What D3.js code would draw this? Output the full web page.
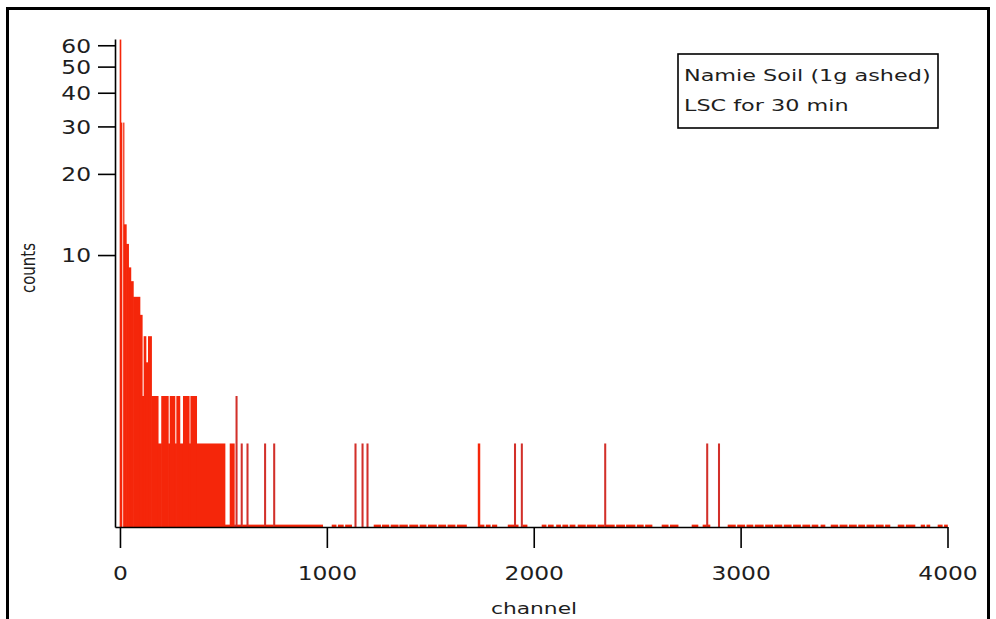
<!DOCTYPE html>
<html><head><meta charset="utf-8">
<script src="https://cdn.jsdelivr.net/npm/d3@7"></script>
<style>html,body{margin:0;padding:0;background:#fff;} svg{display:block;}</style>
</head><body>
<svg id="chart" width="996" height="619"></svg>
<script>
// Histogram runs: [start channel, end channel) with counts
const runStart = [0,5,17,20,31,42,53,65,97,108,116,126,137,153,185,201,234,242,266,274,290,306,335,342,371,508,532,553,560,567,585,592,613,620,698,705,742,749,
  1025,1055,1090,1135,1169,1193,1228,1268,1310,1352,1400,1450,1490,1540,1585,1630,
  1731,1740,1770,1800,1876,1906,1913,1939,1948,2040,2070,2110,2140,2175,2214,2258,2310,2342,2350,2400,2448,2500,2540,
  2620,2660,2765,2818,2835,2842,2892,2939,2985,3030,3070,3120,3165,3210,3255,3300,3345,3388,
  3437,3480,3525,3570,3610,3655,3700,3761,3800,3872,3900,3954,3985];
const runEnd = [5,10,20,31,42,53,65,97,108,116,126,137,153,185,201,234,242,266,274,290,306,335,342,371,508,532,553,560,567,585,592,613,620,698,705,742,749,980,
  1045,1080,1120,1142,1176,1200,1260,1300,1345,1390,1440,1480,1530,1575,1620,1675,
  1740,1760,1790,1822,1906,1913,1925,1946,1968,2060,2095,2130,2165,2200,2250,2300,2340,2349,2390,2440,2490,2530,2572,
  2650,2698,2794,2835,2842,2852,2899,2975,3020,3060,3110,3155,3200,3245,3290,3335,3374,3408,
  3470,3515,3560,3600,3645,3690,3722,3790,3843,3890,3915,3975,4000];
const runCount = [63,31,31,13,11,9,8,7,6,3,5,4,5,3,2,3,2,3,2,3,2,3,2,3,2,1,2,1,3,1,2,1,2,1,2,1,2,1,
  1,1,1,2,2,2,1,1,1,1,1,1,1,1,1,1,
  2,1,1,1,1,2,1,2,1,1,1,1,1,1,1,1,1,2,1,1,1,1,1,
  1,1,1,1,2,1,2,1,1,1,1,1,1,1,1,1,1,1,
  1,1,1,1,1,1,1,1,1,1,1,1,1];

const xTicks = [0,1000,2000,3000,4000];
const yTicks = [10,20,30,40,50,60];
const legendLines = ["Namie Soil (1g ashed)", "LSC for 30 min"];
const xTitle = "channel";
const yTitle = "counts";

const runs = runStart.map((s,i)=>({s, e: runEnd[i], c: runCount[i]}));

const svg = d3.select("#chart");
const FONT = "'DejaVu Sans', sans-serif";
const TXT = "#1e1e1e";

svg.append("rect").attr("width",996).attr("height",619).attr("fill","#fff");
// outer frame
svg.append("rect").attr("x",7.5).attr("y",8.5).attr("width",981).attr("height",700)
  .attr("fill","none").attr("stroke","#000").attr("stroke-width",3);

const x = d3.scaleLinear().domain([-24, 4000]).range([115, 947.5]);
const y = d3.scaleLog().domain([0.98, 63.3]).range([527, 39]);

svg.append("g").selectAll("rect").data(runs).join("rect")
  .attr("x", d=>x(d.s) - 0.3)
  .attr("width", d=>x(d.e)-x(d.s) + 0.6)
  .attr("y", d=>y(d.c))
  .attr("height", d=>y.range()[0]-y(d.c))
  .attr("fill", d => (d.e - d.s) <= 8 && d.c <= 3 && d.s > 500 ? "#d2302a" : "#f5260a");

// x axis
const sxTick = 1.23;
const gx = svg.append("g").attr("transform","translate(0,527)")
  .call(d3.axisBottom(x).tickValues(xTicks).tickSize(21).tickSizeOuter(0).tickFormat(d3.format("d")));
gx.select(".domain").attr("stroke","#000").attr("stroke-width",1.6);
gx.selectAll(".tick line").attr("stroke","#000").attr("stroke-width",1.6);
gx.selectAll(".tick text").attr("font-family",FONT).attr("font-size",19).attr("fill",TXT)
  .attr("y",53).attr("dy",0).attr("transform",`scale(${sxTick},1)`);

// y axis
const gy = svg.append("g").attr("transform","translate(115,0)")
  .call(d3.axisLeft(y).tickValues(yTicks).tickSize(17).tickSizeOuter(0).tickFormat(d3.format("d")));
gy.select(".domain").attr("stroke","#000").attr("stroke-width",1.6);
gy.selectAll(".tick line").attr("stroke","#000").attr("stroke-width",1.6);
gy.selectAll(".tick text").attr("font-family",FONT).attr("font-size",19).attr("fill",TXT)
  .attr("x",-24/sxTick).attr("dy","0.36em").attr("transform",`scale(${sxTick},1)`);

// axis titles
svg.append("text").attr("transform","translate(534,614) scale(1.32,1)")
  .attr("text-anchor","middle").attr("font-family",FONT).attr("font-size",16.5).attr("fill",TXT)
  .text(xTitle);
svg.append("text").attr("transform","translate(35,268) scale(1.3,1) rotate(-90)")
  .attr("text-anchor","middle").attr("font-family",FONT).attr("font-size",15).attr("fill",TXT)
  .text(yTitle);

// legend box
svg.append("rect").attr("x",678).attr("y",54).attr("width",260).attr("height",74)
  .attr("fill","#fff").attr("stroke","#000").attr("stroke-width",1.6);
legendLines.forEach((t,i)=>{
  svg.append("text").attr("transform",`translate(684,${80.5+i*30}) scale(1.37,1)`)
    .attr("font-family",FONT).attr("font-size",16.3).attr("fill",TXT).text(t);
});
</script>
</body></html>
